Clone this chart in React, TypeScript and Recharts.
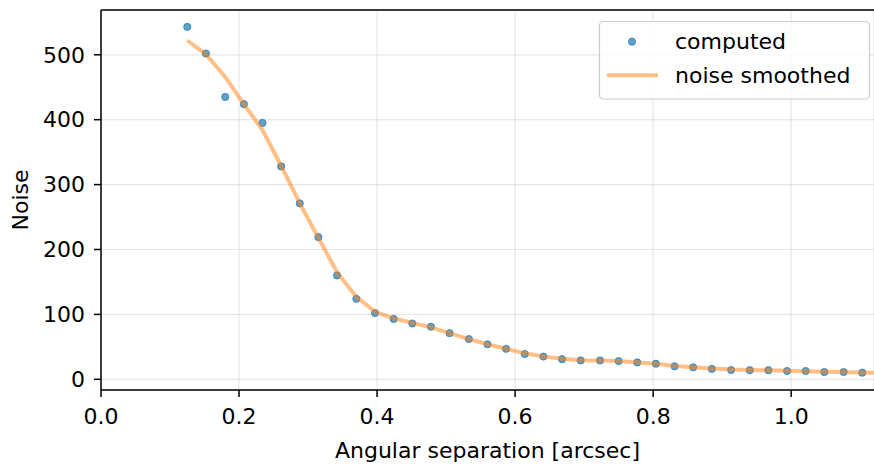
import {
  ComposedChart,
  Scatter,
  XAxis,
  YAxis,
  CartesianGrid,
  ReferenceLine,
  Label,
} from 'recharts';

// angular separation of each computed sample [arcsec]
const separation = [
  0.125, 0.152, 0.18, 0.207, 0.234, 0.261, 0.288, 0.315, 0.342, 0.37,
  0.397, 0.424, 0.451, 0.478, 0.505, 0.533, 0.56, 0.587, 0.614, 0.641,
  0.668, 0.695, 0.723, 0.75, 0.777, 0.804, 0.831, 0.858, 0.885, 0.913,
  0.94, 0.967, 0.994, 1.021, 1.048, 1.076, 1.103,
];

const computed = [
  543, 502, 435, 424, 395, 328, 271, 219, 160, 124,
  102, 93, 86, 81, 71, 62, 54, 47, 39, 35,
  31, 29, 29, 28, 26, 24, 20, 18.5, 16, 14.3,
  14, 14, 12.8, 12.8, 11.2, 11.2, 10.2,
];

// smoothed curve runs one step past the last sample (clipped at the frame)
const smoothSeparation = [...separation, 1.13];
const smoothed = [
  522, 501, 466, 424, 384, 329, 271, 218, 165, 127,
  104, 94, 87, 80, 71, 62, 54, 47, 40, 35,
  31.5, 29.5, 29, 28, 26, 24, 20.5, 18.5, 16.5, 15,
  14.2, 13.8, 13, 12.5, 11.5, 11, 10.3, 9.8,
];

const xTicks = [0, 0.2, 0.4, 0.6, 0.8, 1.0];
const yTicks = [0, 100, 200, 300, 400, 500];
const seriesNames = ['computed', 'noise smoothed'];

const computedData = separation.map((x, i) => ({ x, y: computed[i] }));
const smoothedData = smoothSeparation.map((x, i) => ({ x, y: smoothed[i] }));

const FONT = 'DejaVu Sans, sans-serif';
const BLUE = '#1f77b4';
const ORANGE = '#ff7f0e';

function Dot(props: any) {
  const { cx, cy } = props;
  if (cx == null || cy == null) return null;
  return (
    <circle
      cx={cx}
      cy={cy}
      r={3.6}
      fill={BLUE}
      fillOpacity={0.7}
      stroke={BLUE}
      strokeOpacity={0.7}
      strokeWidth={1}
    />
  );
}

// the smoothed series is drawn as a line only, on top of the computed dots
function NoMarker() {
  return <g />;
}

function LegendBox() {
  return (
    <svg
      width={874}
      height={469}
      style={{ position: 'absolute', left: 0, top: 0, pointerEvents: 'none' }}
    >
      <rect
        x={599.5}
        y={21.5}
        width={270}
        height={77.5}
        rx={4}
        fill="#ffffff"
        fillOpacity={0.8}
        stroke="#cccccc"
        strokeWidth={1.2}
      />
      <circle cx={632} cy={41.7} r={3.6} fill={BLUE} fillOpacity={0.7} stroke={BLUE} strokeOpacity={0.7} />
      <text x={675} y={41.7} dominantBaseline="central" fontFamily={FONT} fontSize={22} fill="#000">
        {seriesNames[0]}
      </text>
      <line x1={607} x2={658} y1={75.3} y2={75.3} stroke={ORANGE} strokeOpacity={0.5} strokeWidth={4} />
      <text x={675} y={75.3} dominantBaseline="central" fontFamily={FONT} fontSize={22} fill="#000">
        {seriesNames[1]}
      </text>
    </svg>
  );
}

export default function App() {
  return (
    <div style={{ position: 'absolute', left: 0, top: 0, width: 874, height: 469, background: '#fff' }}>
      <ComposedChart
        width={874}
        height={469}
        margin={{ top: 10, right: 0, bottom: 0, left: 0 }}
      >
        <CartesianGrid stroke="#b0b0b0" strokeOpacity={0.3} strokeWidth={1.2} />
        <XAxis
          type="number"
          dataKey="x"
          domain={[0, 1.12]}
          allowDataOverflow
          ticks={xTicks}
          tickFormatter={(v: number) => v.toFixed(1)}
          height={79}
          tickSize={7}
          tickMargin={11}
          stroke="#000"
          strokeWidth={1.5}
          tick={{ fontFamily: FONT, fontSize: 22, fill: '#000' }}
        >
          <Label
            content={({ viewBox }: any) => (
              <text
                x={viewBox.x + viewBox.width / 2}
                y={viewBox.y + 68}
                textAnchor="middle"
                fontFamily={FONT}
                fontSize={22}
                fill="#000"
              >
                Angular separation [arcsec]
              </text>
            )}
          />
        </XAxis>
        <YAxis
          type="number"
          domain={[-16.5, 569]}
          allowDataOverflow
          ticks={yTicks}
          width={101}
          tickSize={7}
          tickMargin={9}
          stroke="#000"
          strokeWidth={1.5}
          tick={{ fontFamily: FONT, fontSize: 22, fill: '#000' }}
        >
          <Label
            content={({ viewBox }: any) => (
              <text
                x={20}
                y={viewBox.y + viewBox.height / 2}
                textAnchor="middle"
                dominantBaseline="central"
                transform={`rotate(-90, 20, ${viewBox.y + viewBox.height / 2})`}
                fontFamily={FONT}
                fontSize={22}
                fill="#000"
              >
                Noise
              </text>
            )}
          />
        </YAxis>
        <ReferenceLine y={569} stroke="#000" strokeWidth={1.5} ifOverflow="visible" />
        <Scatter
          name={seriesNames[0]}
          data={computedData}
          dataKey="y"
          shape={<Dot />}
          isAnimationActive={false}
        />
        <Scatter
          name={seriesNames[1]}
          data={smoothedData}
          dataKey="y"
          shape={<NoMarker />}
          line={{ stroke: ORANGE, strokeOpacity: 0.5, strokeWidth: 4, fill: 'none' }}
          lineType="joint"
          isAnimationActive={false}
        />
      </ComposedChart>
      <LegendBox />
    </div>
  );
}
